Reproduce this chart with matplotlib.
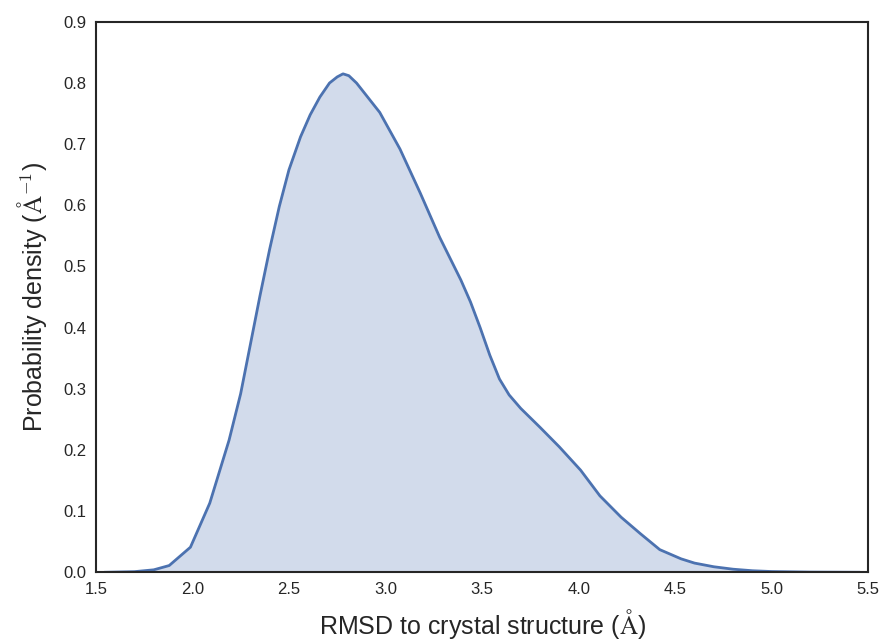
import numpy as np
import matplotlib as mpl
mpl.use('Agg')
import matplotlib.pyplot as plt

rmsd = [1.55, 1.7, 1.8, 1.88, 1.99, 2.09, 2.19, 2.25, 2.30, 2.35, 2.40, 2.45, 2.50, 2.56,
        2.61, 2.66, 2.71, 2.75, 2.78, 2.81, 2.85, 2.97, 3.075, 3.18, 3.28, 3.39, 3.44,
        3.49, 3.54, 3.59, 3.64, 3.70, 3.80, 3.90, 4.01, 4.11, 4.22, 4.32, 4.42, 4.53,
        4.6, 4.7, 4.8, 4.9, 5.0, 5.2, 5.45]
density = [0.0, 0.001, 0.004, 0.011, 0.041, 0.113, 0.216, 0.292, 0.372, 0.452, 0.528, 0.598, 0.658, 0.712,
           0.748, 0.777, 0.80, 0.81, 0.815, 0.812, 0.80, 0.752, 0.692, 0.62, 0.548, 0.478, 0.442,
           0.40, 0.355, 0.316, 0.29, 0.268, 0.237, 0.205, 0.167, 0.125, 0.09, 0.063, 0.037, 0.022,
           0.015, 0.009, 0.005, 0.0025, 0.0012, 0.0003, 0.0]

plt.rcParams['font.family'] = ['Liberation Sans', 'DejaVu Sans']
plt.rcParams['mathtext.fontset'] = 'cm'

blue = '#4C72B0'
fig = plt.figure(figsize=(8.87, 6.43), dpi=100)
ax = fig.add_axes([0.108, 0.110, 0.871, 0.856])

ax.fill_between(rmsd, density, 0, color=blue, alpha=0.25, linewidth=0)
ax.plot(rmsd, density, color=blue, linewidth=2, solid_joinstyle='round')

ax.set_xlim(1.5, 5.5)
ax.set_ylim(0, 0.9)
ax.set_xticks(np.arange(1.5, 5.51, 0.5))
ax.set_yticks(np.arange(0, 0.91, 0.1))
ax.tick_params(axis='both', labelsize=12, length=0, pad=7, colors='#262626')
for s in ax.spines.values():
    s.set_color('#262626')
    s.set_linewidth(1.5)

ax.set_xlabel(r'RMSD to crystal structure ($\mathrm{\AA}$)', fontsize=18, color='#262626', labelpad=7)
ax.set_ylabel(r'Probability density ($\mathrm{\AA}^{-1}$)', fontsize=18, color='#262626', labelpad=10)

fig.savefig('out.png', dpi=100)
plt.close()
